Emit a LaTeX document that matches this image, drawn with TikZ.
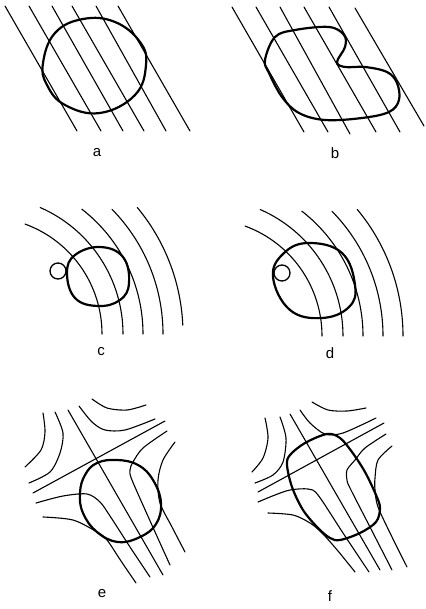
\documentclass[tikz,border=0pt]{standalone}
\usepackage{fontspec}
\setmainfont{Liberation Sans}
\begin{document}
\begin{tikzpicture}[x=1pt,y=-1pt,
  thinline/.style={line width=1.1pt, line cap=round},
  body/.style={line width=2.2pt, line join=round},
  lab/.style={font=\fontsize{15}{15}\selectfont, inner sep=0pt}]
\path[use as bounding box, fill=white] (0,0) rectangle (425,609);

% ---------- a ----------
\foreach \xa/\xb in {5/77,29/101,52/123,72/144,96/166,118/190}
  \draw[thinline] (\xa,6) -- (\xb,131);
\draw[body] plot[smooth cycle, tension=0.7] coordinates {(43,63) (55,33) (83,19) (115,22) (140,42) (146,65) (135,95) (100,113) (65,105) (47,85)};
\node[lab] (la) at (97,153) {a};

% ---------- b ----------
\foreach \xa/\ya/\xb/\yb in {232/7/304/132, 256/7/328/132, 280/7/350/134, 304/7/376/132, 329/7/400/132, 355/8/424/126}
  \draw[thinline] (\xa,\ya) -- (\xb,\yb);
\draw[body] plot[smooth cycle, tension=0.6] coordinates {(265,60) (275,37) (295,30) (329,27) (344,35) (345,47) (337,62) (345,67) (365,67) (387,72) (397,83) (399,100) (389,112) (362,118) (325,120) (299,113) (282,97) (269,73)};
\node[lab] (lb) at (335,153) {b};

% ---------- c ----------
\foreach \r/\s/\e in {117/-70/0, 138/-66.4/0, 158/-52.2/0, 178/-44.5/0, 198/-39.7/-2.6}
  \draw[thinline] (-15,334) ++(\s:\r) arc[start angle=\s, end angle=\e, radius=\r];
\draw[body] plot[smooth cycle, tension=0.7] coordinates {(67,273) (75,255) (100,247) (123,257) (129,283) (120,300) (98,306) (75,298)};
\draw[line width=1.3pt] (58,271) circle[radius=8];
\node[lab] (lc) at (101,352) {c};

% ---------- d ----------
\foreach \r/\s in {117/-70, 138/-66.4, 158/-52.2, 178/-44.5, 198/-39.7}
  \draw[thinline] (205,336) ++(\s:\r) arc[start angle=\s, end angle=0, radius=\r];
\draw[body] plot[smooth cycle, tension=0.7] coordinates {(273,277) (284,253) (309,243) (342,253) (355,285) (349,307) (322,318) (290,310)};
\draw[line width=1.3pt] (282,273) circle[radius=8];
\node[lab] (ld) at (330,353) {d};

% ---------- e ----------
\draw[thinline] plot[smooth] coordinates {(92,399) (107,408) (127,410) (146,405)};
\draw[thinline] plot[smooth] coordinates {(79,406) (92,422) (105,430) (125,430) (155,419)};
\draw[thinline] plot[smooth] coordinates {(43,413) (45,432) (41,450) (25,467)};
\draw[thinline] plot[smooth] coordinates {(55,412) (63,433) (60,453) (50,472) (29,483)};
\draw[thinline] (68,410) -- (163,575);
\draw[thinline] (33,493) -- (165,421);
\draw[thinline] plot[smooth] coordinates {(36,503) (63,496) (87,494) (100,502) (110,516) (130,547) (150,577)};
\draw[thinline] plot[smooth] coordinates {(43,517) (73,520) (97,532) (107,540) (121,561) (136,583)};
\draw[thinline] plot[smooth] coordinates {(167,431) (143,448) (133,462) (130,470) (132,480) (151,523) (170,565)};
\draw[thinline] plot[smooth] coordinates {(175,442) (163,460) (158,480) (160,503) (172,527) (185,552)};
\draw[body] plot[smooth cycle, tension=0.7] coordinates {(117,460) (138,465) (153,480) (161,503) (156,524) (140,537) (118,542) (97,532) (83,513) (80,493) (85,475) (97,463)};
\node[lab] (le) at (102,594) {e};

% ---------- f ----------
\draw[thinline] plot[smooth] coordinates {(312,402) (328,410) (347,411) (366,408)};
\draw[thinline] plot[smooth] coordinates {(300,410) (310,423) (325,434) (343,433) (376,418)};
\draw[thinline] plot[smooth] coordinates {(265,418) (268,438) (263,458) (252,472)};
\draw[thinline] plot[smooth] coordinates {(280,417) (286,438) (283,462) (273,475) (255,483)};
\draw[thinline] (290,414) -- (380,570);
\draw[thinline] (258,492) -- (384,423);
\draw[thinline] plot[smooth] coordinates {(258,502) (275,495) (290,490) (308,489) (318,495) (343,533) (369,572)};
\draw[thinline] plot[smooth] coordinates {(268,513) (293,515) (310,523) (322,533) (338,551) (355,572)};
\draw[thinline] plot[smooth] coordinates {(386,434) (365,448) (355,460) (347,470) (347,480) (350,488) (371,529) (392,570)};
\draw[thinline] plot[smooth] coordinates {(392,446) (378,460) (375,478) (375,490) (378,507) (392,537) (407,567)};
\draw[body] plot[smooth cycle, tension=0.55] coordinates {(327,434) (340,438) (352,452) (365,472) (376,495) (380,508) (376,522) (360,533) (340,540) (330,538) (318,528) (303,510) (292,487) (287,465) (290,455) (305,443)};
\node[lab] (lf) at (330,596) {f};
\end{tikzpicture}
\end{document}
